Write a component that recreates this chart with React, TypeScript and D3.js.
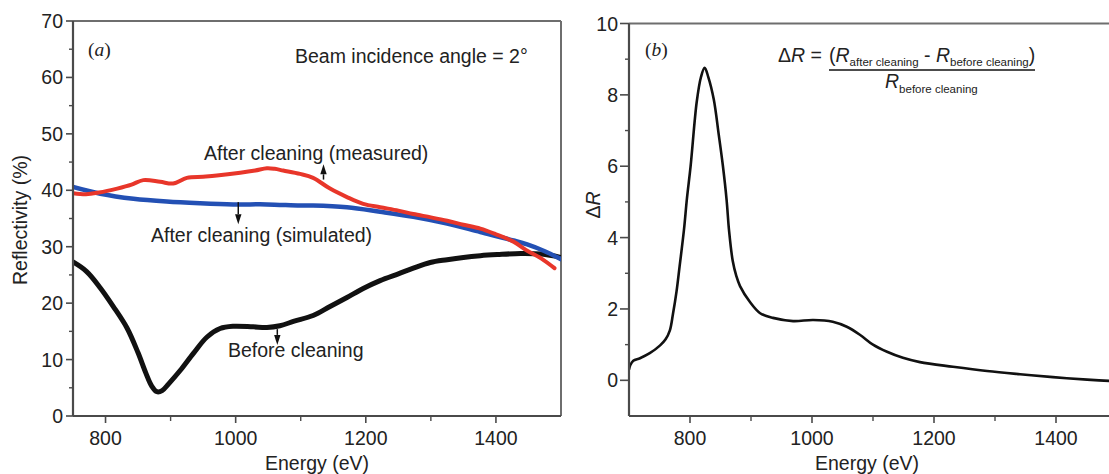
import React from "react";
import * as d3 from "d3";

// ---------- Panel (a) data ----------
const energyMeasured = [750, 770, 790, 818, 840, 858, 884, 904, 925, 950, 971, 1007, 1030, 1048, 1060, 1073, 1099, 1119, 1145, 1171, 1196, 1222, 1250, 1273, 1300, 1325, 1350, 1376, 1400, 1427, 1448, 1470, 1490];
const reflMeasured = [39.5, 39.3, 39.6, 40.3, 41.0, 41.8, 41.5, 41.2, 42.2, 42.4, 42.6, 43.1, 43.5, 43.9, 43.8, 43.5, 42.9, 42.2, 40.3, 38.8, 37.6, 37.0, 36.4, 35.8, 35.2, 34.6, 33.9, 33.2, 32.2, 30.9, 29.3, 27.9, 26.2];

const energySimulated = [750, 792, 843, 894, 945, 996, 1048, 1099, 1119, 1171, 1222, 1273, 1325, 1376, 1427, 1448, 1475, 1500];
const reflSimulated = [40.6, 39.4, 38.5, 38.0, 37.7, 37.5, 37.5, 37.3, 37.3, 37.0, 36.2, 35.3, 34.1, 32.6, 31.1, 30.4, 29.2, 27.8];

const energyBefore = [750, 771, 792, 812, 833, 850, 862, 871, 879, 887, 897, 915, 935, 956, 976, 996, 1027, 1048, 1068, 1090, 1119, 1145, 1171, 1196, 1222, 1250, 1273, 1299, 1325, 1350, 1376, 1402, 1438, 1470, 1500];
const reflBefore = [27.3, 25.6, 22.7, 19.4, 15.6, 11.2, 7.6, 5.3, 4.3, 4.5, 5.7, 8.1, 11.1, 14.0, 15.5, 15.9, 15.8, 15.7, 16.0, 16.8, 17.8, 19.4, 21.0, 22.6, 24.0, 25.2, 26.2, 27.2, 27.7, 28.1, 28.4, 28.6, 28.8, 28.7, 28.1];

const xTicksA = [800, 1000, 1200, 1400];
const xMinorA = [900, 1100, 1300];
const yTicksA = [0, 10, 20, 30, 40, 50, 60, 70];
const yMinorA = [5, 15, 25, 35, 45, 55, 65];

// ---------- Panel (b) data ----------
const energyDelta = [700, 702, 707, 718, 734, 751, 760, 767, 772, 778, 783, 790, 795, 801, 811, 818, 824, 830, 839, 847, 854, 860, 864, 870, 876, 882, 898, 915, 936, 969, 1002, 1034, 1057, 1079, 1100, 1123, 1149, 1177, 1231, 1287, 1341, 1395, 1451, 1500];
const deltaR = [0.3, 0.42, 0.55, 0.62, 0.76, 0.98, 1.15, 1.4, 1.85, 2.5, 3.2, 4.2, 5.1, 6.0, 7.8, 8.5, 8.76, 8.5, 7.87, 6.9, 6.0, 5.06, 4.2, 3.35, 2.92, 2.64, 2.2, 1.88, 1.75, 1.66, 1.69, 1.64, 1.5, 1.27, 1.0, 0.8, 0.63, 0.51, 0.38, 0.26, 0.17, 0.09, 0.02, -0.03];

const xTicksB = [800, 1000, 1200, 1400];
const xMinorB = [900, 1100, 1300];
const yTicksB = [0, 2, 4, 6, 8, 10];
const yMinorB = [1, 3, 5, 7, 9];

const FONT = "'Liberation Sans', Arial, Helvetica, sans-serif";
const SERIF = "'Liberation Serif', 'Times New Roman', serif";
const FS = 19.5;
const AXIS = "#4a4a4a";
const FRAME = "#6e6e6e";

function Arrow({ x, y1, y2 }: { x: number; y1: number; y2: number }) {
  const dir = y2 > y1 ? 1 : -1;
  const hl = 10;
  const hw = 3.2;
  return (
    <g>
      <line x1={x} y1={y1} x2={x} y2={y2 - dir * hl} stroke="#111" strokeWidth={1.5} />
      <path d={`M${x - hw},${y2 - dir * hl} L${x + hw},${y2 - dir * hl} L${x},${y2} Z`} fill="#111" />
    </g>
  );
}

export default function App() {
  const xA = d3.scaleLinear().domain([750, 1500]).range([73, 561]);
  const yA = d3.scaleLinear().domain([0, 70]).range([416, 21]);
  const xB = d3.scaleLinear().domain([700, 1500]).range([629, 1117]);
  const yB = d3.scaleLinear().domain([-1, 10]).range([416, 23.5]);

  const mk = (xs: number[], ys: number[], sx: any, sy: any) =>
    d3
      .line<number>()
      .x((_, i) => sx(xs[i]))
      .y((d) => sy(d))
      .curve(d3.curveCatmullRom.alpha(0.5))(ys) as string;

  const pathMeasured = mk(energyMeasured, reflMeasured, xA, yA);
  const pathSimulated = mk(energySimulated, reflSimulated, xA, yA);
  const pathBefore = mk(energyBefore, reflBefore, xA, yA);
  const pathDelta = mk(energyDelta, deltaR, xB, yB);

  const [ax0, ax1] = xA.range();
  const [ay0, ay1] = yA.range();
  const [bx0, bx1] = xB.range();
  const [by0, by1] = yB.range();

  return (
    <svg
      width={1109}
      height={474}
      viewBox="0 0 1109 474"
      style={{ position: "absolute", left: 0, top: 0, background: "#fff" }}
      fontFamily={FONT}
    >
      <rect x={0} y={0} width={1109} height={474} fill="#fff" />

      <defs>
        <clipPath id="clipA">
          <rect x={ax0} y={ay1} width={ax1 - ax0} height={ay0 - ay1} />
        </clipPath>
        <clipPath id="clipB">
          <rect x={bx0} y={by1} width={bx1 - bx0} height={by0 - by1} />
        </clipPath>
      </defs>

      {/* ================= Panel (a) ================= */}
      <line x1={ax0} y1={ay1} x2={ax1} y2={ay1} stroke={FRAME} strokeWidth={2} />
      <line x1={ax1} y1={ay1} x2={ax1} y2={ay0} stroke={FRAME} strokeWidth={2} />

      <g clipPath="url(#clipA)">
        <path d={pathBefore} fill="none" stroke="#111" strokeWidth={5} strokeLinejoin="round" strokeLinecap="round" />
        <path d={pathSimulated} fill="none" stroke="#2350b4" strokeWidth={4.5} strokeLinecap="round" />
        <path d={pathMeasured} fill="none" stroke="#e8362a" strokeWidth={4} strokeLinecap="round" strokeLinejoin="round" />
      </g>

      <line x1={ax0} y1={ay0} x2={ax1} y2={ay0} stroke={AXIS} strokeWidth={2.2} />
      <line x1={ax0} y1={ay0} x2={ax0} y2={ay1} stroke={AXIS} strokeWidth={2.2} />
      {yTicksA.map((t) => (
        <g key={"ya" + t}>
          <line x1={ax0 - 7} x2={ax0} y1={yA(t)} y2={yA(t)} stroke={AXIS} strokeWidth={1.6} />
          <text x={ax0 - 10} y={yA(t)} dy="0.36em" textAnchor="end" fontSize={FS} fill="#222">
            {t}
          </text>
        </g>
      ))}
      {yMinorA.map((t) => (
        <line key={"yam" + t} x1={ax0 - 4} x2={ax0} y1={yA(t)} y2={yA(t)} stroke={AXIS} strokeWidth={1.4} />
      ))}
      {xTicksA.map((t) => (
        <g key={"xa" + t}>
          <line x1={xA(t)} x2={xA(t)} y1={ay0} y2={ay0 + 7} stroke={AXIS} strokeWidth={1.6} />
          <text x={xA(t)} y={445} textAnchor="middle" fontSize={FS} fill="#222">
            {t}
          </text>
        </g>
      ))}
      {xMinorA.map((t) => (
        <line key={"xam" + t} x1={xA(t)} x2={xA(t)} y1={ay0} y2={ay0 + 5} stroke={AXIS} strokeWidth={1.4} />
      ))}
      <text x={(ax0 + ax1) / 2} y={470} textAnchor="middle" fontSize={FS} fill="#222">
        Energy (eV)
      </text>
      <text transform="translate(27,220) rotate(-90)" textAnchor="middle" fontSize={FS} fill="#222">
        Reflectivity (%)
      </text>

      <text x={88} y={56} fontFamily={SERIF} fontSize={FS} fill="#222">
        (<tspan fontStyle="italic">a</tspan>)
      </text>
      <text x={295} y={63} fontSize={FS} fill="#222">
        Beam incidence angle = 2°
      </text>
      <text x={204} y={160} fontSize={FS} fill="#222">
        After cleaning (measured)
      </text>
      <text x={151} y={242} fontSize={FS} fill="#222">
        After cleaning (simulated)
      </text>
      <text x={228} y={357} fontSize={FS} fill="#222">
        Before cleaning
      </text>
      <Arrow x={xA(1135)} y1={yA(41.9)} y2={yA(44.6)} />
      <Arrow x={xA(1004)} y1={yA(37.9)} y2={yA(34.0)} />
      <Arrow x={xA(1064)} y1={yA(15.4)} y2={yA(12.6)} />

      {/* ================= Panel (b) ================= */}
      <line x1={bx0} y1={by1} x2={bx1} y2={by1} stroke={FRAME} strokeWidth={2} />

      <g clipPath="url(#clipB)">
        <path d={pathDelta} fill="none" stroke="#111" strokeWidth={2.6} strokeLinejoin="round" strokeLinecap="round" />
      </g>

      <line x1={bx0} y1={by0} x2={bx1} y2={by0} stroke={AXIS} strokeWidth={2.2} />
      <line x1={bx0} y1={by0} x2={bx0} y2={by1} stroke={AXIS} strokeWidth={2.2} />
      {yTicksB.map((t) => (
        <g key={"yb" + t}>
          <line x1={bx0 - 9} x2={bx0} y1={yB(t)} y2={yB(t)} stroke={AXIS} strokeWidth={1.6} />
          <text x={bx0 - 11} y={yB(t)} dy="0.36em" textAnchor="end" fontSize={FS} fill="#222">
            {t}
          </text>
        </g>
      ))}
      {yMinorB.map((t) => (
        <line key={"ybm" + t} x1={bx0 - 4} x2={bx0} y1={yB(t)} y2={yB(t)} stroke={AXIS} strokeWidth={1.4} />
      ))}
      {xTicksB.map((t) => (
        <g key={"xb" + t}>
          <line x1={xB(t)} x2={xB(t)} y1={by0} y2={by0 + 7} stroke={AXIS} strokeWidth={1.6} />
          <text x={xB(t)} y={445} textAnchor="middle" fontSize={FS} fill="#222">
            {t}
          </text>
        </g>
      ))}
      {xMinorB.map((t) => (
        <line key={"xbm" + t} x1={xB(t)} x2={xB(t)} y1={by0} y2={by0 + 5} stroke={AXIS} strokeWidth={1.4} />
      ))}
      <text x={867} y={470} textAnchor="middle" fontSize={FS} fill="#222">
        Energy (eV)
      </text>
      <text transform="translate(600,205) rotate(-90)" textAnchor="middle" fontSize={FS} fill="#222">
        Δ<tspan fontStyle="italic">R</tspan>
      </text>

      <text x={645} y={56} fontFamily={SERIF} fontSize={FS} fill="#222">
        (<tspan fontStyle="italic">b</tspan>)
      </text>
      <text x={778} y={62} fontSize={FS} fill="#222">
        Δ<tspan fontStyle="italic">R</tspan> =
      </text>
      <text x={829} y={62} fontSize={FS} fill="#222">
        (<tspan fontStyle="italic">R</tspan>
        <tspan fontSize={11.5} dy={4}>after cleaning</tspan>
        <tspan dy={-4}> - </tspan>
        <tspan fontStyle="italic">R</tspan>
        <tspan fontSize={11.5} dy={4}>before cleaning</tspan>
        <tspan dy={-4}>)</tspan>
      </text>
      <line x1={829} x2={1035} y1={70} y2={70} stroke="#111" strokeWidth={1.4} />
      <text x={885} y={88} fontSize={FS} fill="#222">
        <tspan fontStyle="italic">R</tspan>
        <tspan fontSize={11.5} dy={5}>before cleaning</tspan>
      </text>
    </svg>
  );
}
